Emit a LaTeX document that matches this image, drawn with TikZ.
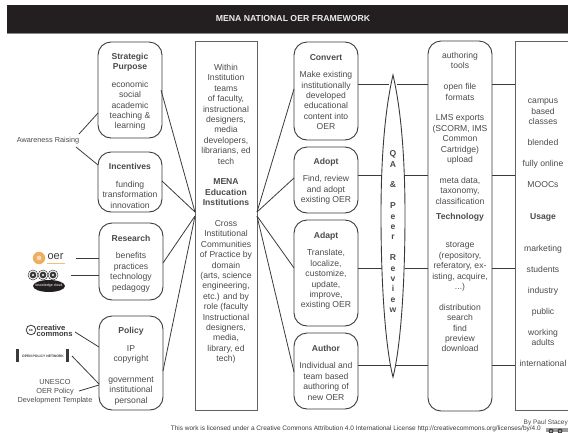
\documentclass[tikz,border=0pt]{standalone}
\usepackage{fontspec}
\setmainfont{Liberation Sans}
\definecolor{ink}{HTML}{3A3A3A}
\definecolor{txt}{HTML}{4A4A4A}
\definecolor{dark}{HTML}{231F20}
\definecolor{oerorange}{HTML}{EDAE62}
\tikzset{
 rbox/.style={draw=ink,line width=0.9pt,rounded corners=13pt,inner sep=0pt},
 sbox/.style={draw=ink!80,line width=0.9pt,inner sep=0pt},
 link/.style={draw=ink,line width=0.8pt},
 body/.style={font=\fontsize{8.6}{10.4}\selectfont,text=txt,align=center,inner sep=0pt,anchor=north},
 small/.style={font=\fontsize{7.3}{8.8}\selectfont,text=txt,align=center,inner sep=0pt},
}
\newcommand{\hd}[1]{\textbf{#1}}
\begin{document}
\begin{tikzpicture}[x=1pt,y=-1pt]
\useasboundingbox (0,0) rectangle (568,432);
\fill[dark] (7,5) rectangle (568,33);
\draw[ink!60,line width=0.8pt] (7,33) -- (568,33);
\node[font=\bfseries\fontsize{8.7}{10}\selectfont,text=white!92!black,inner sep=0pt] (title) at (293,19) {MENA NATIONAL OER FRAMEWORK};
% boxes
\draw[rbox] (98,42) rectangle (162,138);
\coordinate (spR) at (161,90); \coordinate (spL) at (98,113);
\draw[rbox] (98,152) rectangle (162,212);
\coordinate (inR) at (162,181); \coordinate (inL) at (98,165);
\draw[rbox] (99,223) rectangle (163,300);
\coordinate (reR) at (163,263);
\draw[rbox] (99,316) rectangle (163,410);
\coordinate (poR) at (163,371);
\draw[sbox] (195,41) rectangle (257,410);
\coordinate (ceLa) at (195,212); \coordinate (ceLb) at (195,216);
\coordinate (ceRa) at (257,212); \coordinate (ceRb) at (257,216);
\draw[rbox] (294,42) rectangle (358,140);
\draw[rbox] (294,147) rectangle (358,213);
\draw[rbox] (294,220) rectangle (358,326);
\draw[rbox] (294,333) rectangle (358,409);
\draw[rbox] (428,41) rectangle (492,411);
\draw[sbox] (568,41) -- (515,41) -- (515,410) -- (568,410);
% QA lens
\draw[ink,line width=0.9pt] (393,75) .. controls (386,105) and (381,150) .. (381,215) .. controls (381,290) and (386,350) .. (393,377) .. controls (400,350) and (405,290) .. (405,215) .. controls (405,150) and (400,105) .. (393,75) -- cycle;
% connectors
\draw[link] (spR) -- (ceLa);
\draw[link] (inR) -- (ceLa);
\draw[link] (reR) -- (ceLb);
\draw[link] (poR) -- (ceLb);
\draw[link] (294,89) -- (ceRa);
\draw[link] (294,178) -- (ceRa);
\draw[link] (294,268) -- (ceRb);
\draw[link] (294,372) -- (ceRb);
\foreach \y/\a/\b in {84.5/389/397,175/382/405,268/382/405,365.5/390/396}{
 \draw[link] (358,\y) -- (\a,\y);
 \draw[link] (\b,\y) -- (428,\y);
 \draw[link] (492,\y) -- (515,\y);
}
% left connectors
\node[small] (aw) at (48,141) {Awareness Raising};
\draw[link] (79,134) -- (spL);
\draw[link] (76,147) -- (inL);
\draw[link] (76,258) -- (99,258);
\draw[link] (71,275) -- (99,275);
\draw[link] (75,332) -- (99,347);
\draw[link] (72,356) -- (99,384);
\draw[link] (79,391) -- (99,385);
% text: left column
\node[body] (t1) at (130,53) {\hd{Strategic}\\\hd{Purpose}\\[7pt]economic\\social\\academic\\teaching \&\\learning};
\node[body] (t2) at (130,163.5) {\hd{Incentives}\\[7pt]funding\\transformation\\innovation};
\node[body] (t3) at (131,235) {\hd{Research}\\[7pt]benefits\\practices\\technology\\pedagogy};
\node[body] (t4) at (131,327.5) {\hd{Policy}\\[7pt]IP\\copyright\\[10.4pt]government\\institutional\\personal};
% centre
\node[body] (t5) at (226,64) {Within\\Institution\\teams\\of faculty,\\instructional\\designers,\\media\\developers,\\librarians, ed\\tech\\[10.4pt]\hd{MENA}\\\hd{Education}\\\hd{Institutions}\\[10.4pt]Cross\\Institutional\\Communities\\of Practice by\\domain\\(arts, science\\engineering,\\etc.) and by\\role (faculty\\Instructional\\designers,\\media,\\library, ed\\tech)};
% middle
\node[body] (t6) at (326,54) {\hd{Convert}\\[7pt]Make existing\\institutionally\\developed\\educational\\content into\\OER};
\node[body] (t7) at (326,158) {\hd{Adopt}\\[7pt]Find, review\\and adopt\\existing OER};
\node[body] (t8) at (326,232) {\hd{Adapt}\\[7pt]Translate,\\localize,\\customize,\\update,\\improve,\\existing OER};
\node[body] (t9) at (326,345) {\hd{Author}\\[7pt]Individual and\\team based\\authoring of\\new OER};
% QA
\node[body,font=\bfseries\fontsize{8.6}{10.4}\selectfont] (qa) at (393,150.5) {Q\\A\\[10.4pt]\&\\[10.4pt]P\\e\\e\\r\\[10.4pt]R\\e\\v\\i\\e\\w};
% technology
\node[body] (t10) at (460,52) {authoring\\tools\\[10.4pt]open file\\formats\\[10.4pt]LMS exports\\(SCORM, IMS\\Common\\Cartridge)\\upload\\[10.4pt]meta data,\\taxonomy,\\classification\\[5pt]\hd{Technology}\\[18pt]storage\\(repository,\\referatory, ex-\\isting, acquire,\\...)\\[10.4pt]distribution\\search\\find\\preview\\download};
% usage
\node[body] (t11) at (543,99) {campus\\based\\classes\\[10.4pt]blended\\[10.4pt]fully online\\[10.4pt]MOOCs\\[22pt]\hd{Usage}\\[22pt]marketing\\[10.4pt]students\\[10.4pt]industry\\[10.4pt]public\\[10.4pt]working\\adults\\[10.4pt]international};
% logos
\fill[oerorange] (39,258) circle (6.2);
\fill[oerorange!45!white] (39,258) circle (2.4);
\node[font=\fontsize{11}{11}\selectfont,text=ink,inner sep=0pt] (oer) at (55.5,256.5) {oer};
\fill[oerorange!80!white] (47,262.5) rectangle (65,264);
\foreach \x in {33,43,53}{
 \draw[ink,line width=0.5pt,fill=white] (\x,275) circle (5);
 \fill[ink] (\x,275) circle (3.4);
 \fill[white] (\x,275) circle (1.2);
}
\fill[dark] (49,286) ellipse (16 and 6);
\node[font=\fontsize{3.6}{4}\selectfont,text=white,inner sep=0pt] (kc) at (49,286) {knowledge cloud};
\draw[ink,line width=0.8pt] (31,330) circle (4.8);
\node[font=\bfseries\fontsize{4}{4}\selectfont,text=ink,inner sep=0pt] (ccs) at (31,330) {cc};
\node[font=\bfseries\fontsize{7.6}{6.2}\selectfont,text=ink,align=left,inner sep=0pt,anchor=west] (cc) at (36.5,331) {creative\\commons};
\fill[ink] (16,349) rectangle (19,362);
\fill[ink] (66,349) rectangle (69,362);
\node[font=\bfseries\fontsize{3.4}{4}\selectfont,text=ink,inner sep=0pt] (opn) at (43,356) {OPEN POLICY NETWORK};
\node[small] (un) at (55,392) {UNESCO\\OER Policy\\Development Template};
% credit
\node[font=\fontsize{6.5}{7}\selectfont,text=txt,inner sep=0pt,anchor=east] (by) at (568,422.5) {By Paul Stacey};
\node[font=\fontsize{6.5}{7}\selectfont,text=ink,inner sep=0pt,anchor=east] (lic) at (541,428.5) {This work is licensed under a Creative Commons Attribution 4.0 International License http://creativecommons.org/licenses/by/4.0};
\fill[ink!50] (546,428) rectangle (568,432);
\foreach \x in {551,560}{\fill[ink] (\x,431) circle (2.5);\fill[ink!50] (\x,431) circle (1.5);}
\end{tikzpicture}
\end{document}
